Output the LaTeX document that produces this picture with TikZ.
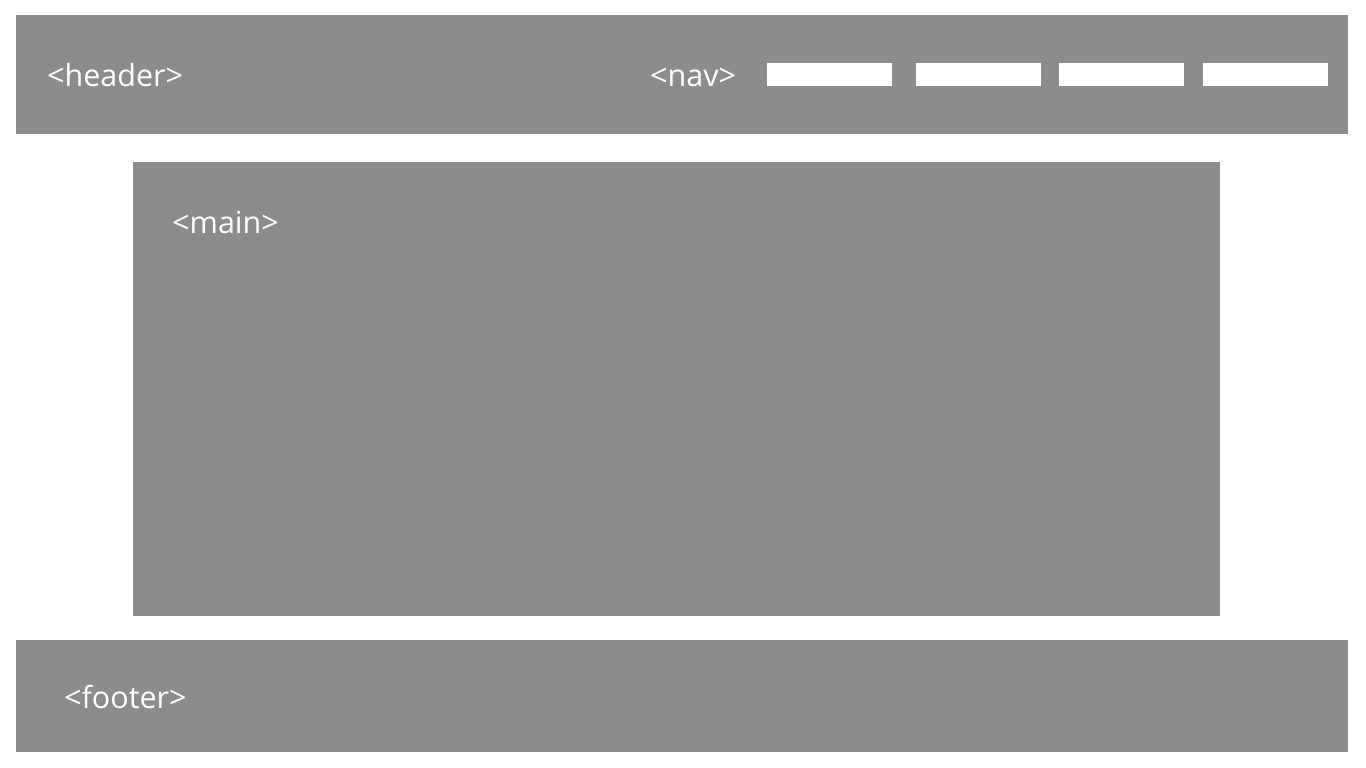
\documentclass[tikz,border=0pt]{standalone}
\usepackage{fontspec}
\setmainfont{Open Sans}
\definecolor{boxgrey}{HTML}{8C8C8C}
\tikzset{
  area/.style={fill=boxgrey},
  navitem/.style={fill=white},
  tag/.style={text=white, font=\fontsize{30.5}{32}\selectfont, anchor=base west, inner sep=0pt}
}
\begin{document}
\begin{tikzpicture}[x=1pt,y=-1pt]
    \useasboundingbox[fill=white] (0,0) rectangle (1366,768);
    % page areas
    \fill[area] (16,15) rectangle (1348,134);
    \fill[area] (133,162) rectangle (1220,616);
    \fill[area] (16,640) rectangle (1348,752);
    % nav links
    \foreach \x in {767,916,1059,1203}
        \fill[navitem] (\x,63) rectangle ++(125,23);
    \node[tag] (header) at (47,86) {<header>};
    \node[tag] (nav) at (650,86) {<nav>};
    \node[tag] (main) at (172,233) {<main>};
    \node[tag] (footer) at (64,708) {<footer>};
\end{tikzpicture}
\end{document}
